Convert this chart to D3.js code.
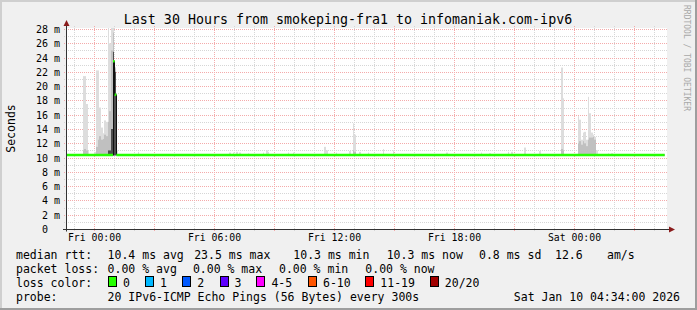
<!DOCTYPE html>
<html><head><meta charset="utf-8">
<script src="https://cdn.jsdelivr.net/npm/d3@7"></script>
<style>
html,body{margin:0;padding:0;background:#f0f0f0;}
svg{display:block;}
text{font-family:"DejaVu Sans Mono",monospace;fill:#000;}
</style>
</head><body>
<svg id="c" width="697" height="310"></svg>
<script>
// ---------------- data ----------------
const titleText = "Last 30 Hours from smokeping-fra1 to infomaniak.com-ipv6";
const yAxisTitle = "Seconds";
const sideText = "RRDTOOL / TOBI OETIKER";
const yTickValues = [0,2,4,6,8,10,12,14,16,18,20,22,24,26,28];
const yTickUnit = "m";
const xLabelTimes = ["2026-01-09T00:00","2026-01-09T06:00","2026-01-09T12:00","2026-01-09T18:00","2026-01-10T00:00"];
const xLabelTexts = ["Fri 00:00","Fri 06:00","Fri 12:00","Fri 18:00","Sat 00:00"];
const domainStart = "2026-01-08T22:34";
const domainEnd = "2026-01-10T04:34";

const medianTime  = ["2026-01-08T22:35","2026-01-09T00:55","2026-01-09T01:00","2026-01-09T01:05","2026-01-10T04:30"];
const medianValue = [10.35, 23.5, 18.8, 10.35, 10.35];

const smokeTime = [
 "2026-01-08T23:25","2026-01-08T23:30","2026-01-08T23:35","2026-01-08T23:40",
 "2026-01-09T00:00","2026-01-09T00:05","2026-01-09T00:10","2026-01-09T00:15","2026-01-09T00:20",
 "2026-01-09T00:25","2026-01-09T00:30","2026-01-09T00:35","2026-01-09T00:40","2026-01-09T00:45",
 "2026-01-09T00:50","2026-01-09T00:55","2026-01-09T01:00","2026-01-09T01:05",
 "2026-01-09T02:10","2026-01-09T06:45","2026-01-09T06:55","2026-01-09T07:05","2026-01-09T07:15",
 "2026-01-09T07:40","2026-01-09T08:25","2026-01-09T08:35","2026-01-09T08:40","2026-01-09T09:40",
 "2026-01-09T09:55","2026-01-09T11:30","2026-01-09T11:35","2026-01-09T12:05","2026-01-09T12:45",
 "2026-01-09T12:55","2026-01-09T13:00","2026-01-09T13:15","2026-01-09T13:40","2026-01-09T14:25",
 "2026-01-09T14:55","2026-01-09T17:35","2026-01-09T19:20","2026-01-09T19:45","2026-01-09T20:40",
 "2026-01-09T20:50","2026-01-09T21:30","2026-01-09T22:15","2026-01-09T23:20","2026-01-09T23:25",
 "2026-01-10T00:10","2026-01-10T00:15","2026-01-10T00:20","2026-01-10T00:25","2026-01-10T00:30",
 "2026-01-10T00:35","2026-01-10T00:40","2026-01-10T00:45","2026-01-10T00:50","2026-01-10T00:55",
 "2026-01-10T01:00","2026-01-10T01:05","2026-01-10T01:40","2026-01-10T01:50"
];
const smokeMax = [
 21.4,21.4,17.5,10.9,
 10.8,22.2,22.2,17.0,14.2,
 13.4,15.2,15.0,28.6,26.0,
 28.6,28.6,22.7,11.0,
 10.8,10.7,10.7,10.8,10.7,
 10.6,10.7,11.0,10.8,10.7,
 10.7,11.5,11.0,10.7,10.9,
 14.8,13.2,10.8,10.7,11.2,
 11.0,10.7,10.7,10.6,10.8,
 10.8,11.4,10.9,22.6,18.3,
 15.8,15.3,12.5,13.5,13.6,
 12.5,18.5,16.2,13.5,13.2,
 12.9,11.0,10.6,10.6
];
const smokeMid = [
 11.0,11.2,11.0,10.3,
 10.3,11.5,12.5,13.0,12.5,
 12.6,13.2,13.0,15.0,16.5,
 25.0,27.5,22.5,10.3,
 10.3,10.3,10.3,10.3,10.3,
 10.3,10.3,10.3,10.3,10.3,
 10.3,10.3,10.3,10.3,10.3,
 11.0,10.8,10.3,10.3,10.3,
 10.3,10.3,10.3,10.3,10.3,
 10.3,10.3,10.3,11.2,11.0,
 12.0,12.3,11.8,12.3,12.0,
 11.6,12.5,12.8,12.8,12.9,
 12.5,10.3,10.3,10.3
];
const smokeCore = [
 10.3,10.3,10.3,10.3,
 10.3,10.3,10.3,10.3,10.3,
 10.3,10.3,10.3,11.0,11.0,
 14.0,24.8,22.0,10.3,
 10.3,10.3,10.3,10.3,10.3,
 10.3,10.3,10.3,10.3,10.3,
 10.3,10.3,10.3,10.3,10.3,
 10.3,10.3,10.3,10.3,10.3,
 10.3,10.3,10.3,10.3,10.3,
 10.3,10.3,10.3,10.3,10.3,
 10.3,10.3,10.3,10.3,10.3,
 10.3,10.3,10.3,10.3,10.3,
 10.3,10.3,10.3,10.3
];
const smokeMin = smokeTime.map(() => 10.3);

const legendRttTexts  = ["median rtt:","10.4 ms avg","23.5 ms max","10.3 ms min","10.3 ms now","0.8 ms sd","12.6","am/s"];
const legendLossTexts = ["packet loss:","0.00 % avg","0.00 % max","0.00 % min","0.00 % now"];
const lossTitle = "loss color:";
const lossLabels = ["0","1","2","3","4-5","6-10","11-19","20/20"];
const lossColors = ["#26ff00","#00b8ff","#0059ff","#5e00ff","#ff00ff","#ff5500","#ff0000","#a10000"];
const probeTitle = "probe:";
const probeText = "20 IPv6-ICMP Echo Pings (56 Bytes) every 300s";
const stampText = "Sat Jan 10 04:34:00 2026";

// ---------------- layout ----------------
const W = 697, H = 310;
const PX0 = 66, PX1 = 666, CANVAS_R = 667, PYTOP = 28, PY0 = 229, PY28 = 29;
const parse = d3.timeParse("%Y-%m-%dT%H:%M");
const svg = d3.select("#c");

const x = d3.scaleTime().domain([parse(domainStart), parse(domainEnd)]).range([PX0, PX1]);
const y = d3.scaleLinear().domain([0, 28]).range([PY0, PY28]);
const px = v => Math.floor(x(v)) + 0.5;
const py = v => Math.round(y(v)) + 0.5;

// background + frame
svg.append("rect").attr("width", W).attr("height", H).attr("fill", "#f0f0f0");
svg.append("rect").attr("x", 0).attr("y", 0).attr("width", W).attr("height", 2).attr("fill", "#cfcfcf");
svg.append("rect").attr("x", 0).attr("y", 0).attr("width", 2).attr("height", H).attr("fill", "#cfcfcf");
svg.append("rect").attr("x", 0).attr("y", H - 2).attr("width", W).attr("height", 2).attr("fill", "#9e9e9e");
svg.append("rect").attr("x", W - 2).attr("y", 0).attr("width", 2).attr("height", H).attr("fill", "#9e9e9e");

// canvas
svg.append("rect").attr("x", PX0).attr("y", PYTOP).attr("width", CANVAS_R - PX0).attr("height", PY0 - PYTOP).attr("fill", "#ffffff");

svg.append("defs").append("clipPath").attr("id", "clip")
  .append("rect").attr("x", PX0).attr("y", PYTOP).attr("width", CANVAS_R - PX0).attr("height", PY0 - PYTOP);

// grid
const grid = svg.append("g");
const minorCol = "#d6d6d6", majorCol = "#f4abab";
const hours = d3.timeHour.every(1).range(x.domain()[0], x.domain()[1]);
hours.forEach(h => {
  const major = h.getHours() % 3 === 0;
  grid.append("line").attr("x1", px(h)).attr("x2", px(h)).attr("y1", PYTOP - 2).attr("y2", PY0 + 2)
    .attr("stroke", major ? majorCol : minorCol).attr("stroke-width", 1).attr("stroke-dasharray", "1,1");
});
d3.range(1, 29).forEach(v => {
  const major = yTickValues.includes(v);
  grid.append("line").attr("x1", PX0 - 2).attr("x2", CANVAS_R + 1).attr("y1", py(v)).attr("y2", py(v))
    .attr("stroke", major ? majorCol : minorCol).attr("stroke-width", 1).attr("stroke-dasharray", "1,1");
});

// smoke
const smoke = svg.append("g").attr("clip-path", "url(#clip)");
const step = 5 * 60 * 1000;
const slots = smokeTime.map((t, i) => ({ t: parse(t), min: smokeMin[i], max: smokeMax[i], mid: smokeMid[i], core: smokeCore[i] }));
const bandCols = [["max", "#dddddd"], ["mid", "#c0c0c0"], ["core", "#4e4e4e"]];
bandCols.forEach(([k, col]) => {
  smoke.selectAll(null).data(slots.filter(d => d[k] > d.min)).enter().append("rect")
    .attr("x", d => Math.floor(x(d.t)))
    .attr("width", d => Math.max(1, Math.floor(x(new Date(+d.t + step))) - Math.floor(x(d.t))))
    .attr("y", d => y(d[k]))
    .attr("height", d => y(d.min) - y(d[k]))
    .attr("fill", col);
});

// median: thin dark step line + green horizontal segments
const med = medianTime.map((t, i) => ({ t: parse(t), v: medianValue[i] }));
let dPath = "";
med.forEach((d, i) => {
  const xx = i === 0 ? x(d.t) : Math.floor(x(d.t)) + 0.5;
  if (i === 0) dPath += `M${xx},${y(d.v)}`;
  else dPath += `L${xx},${y(med[i - 1].v)}L${xx},${y(d.v)}`;
});
svg.append("path").attr("d", dPath).attr("fill", "none").attr("stroke", "#111").attr("stroke-width", 1).attr("clip-path", "url(#clip)");
const segs = med.slice(0, -1).map((d, i) => ({ x1: x(d.t), x2: x(med[i + 1].t), v: d.v }));
svg.append("g").selectAll("line").data(segs).enter().append("line")
  .attr("x1", d => d.x1).attr("x2", d => d.x2).attr("y1", d => y(d.v)).attr("y2", d => y(d.v))
  .attr("stroke", lossColors[0]).attr("stroke-width", 2.5);

// axes
const axisCol = "#333";
svg.append("line").attr("x1", PX0 + 0.5).attr("x2", PX0 + 0.5).attr("y1", 24).attr("y2", PY0 + 2.5).attr("stroke", axisCol);
svg.append("line").attr("x1", PX0 - 3).attr("x2", 669).attr("y1", PY0 + 0.5).attr("y2", PY0 + 0.5).attr("stroke", axisCol);
svg.append("path").attr("d", `M${PX0 + 0.5},20 L${PX0 + 3.5},26 L${PX0 - 2.5},26 Z`).attr("fill", "#8a1c1c");
svg.append("path").attr("d", `M675,${PY0 + 0.5} L669,${PY0 - 2.5} L669,${PY0 + 3.5} Z`).attr("fill", "#8a1c1c");

// y tick labels
const yl = svg.append("g").attr("font-size", "10px");
yTickValues.forEach(v => {
  yl.append("text").attr("x", 48).attr("y", py(v) + 3.3).attr("text-anchor", "end").text(String(v));
  if (v !== 0) yl.append("text").attr("x", 54).attr("y", py(v) + 3.3).text(yTickUnit);
});

// x tick labels
const xl = svg.append("g").attr("font-size", "9.8px");
xLabelTimes.forEach((t, i) => {
  xl.append("text").attr("x", px(parse(t))).attr("y", 240.5).attr("text-anchor", "middle").text(xLabelTexts[i]);
});

// title
svg.append("text").attr("x", 348).attr("y", 24).attr("text-anchor", "middle").attr("font-size", "13.3px").text(titleText);

// y axis title
svg.append("text").attr("transform", "translate(15,128.5) rotate(-90)").attr("text-anchor", "middle")
  .attr("font-size", "11.5px").text(yAxisTitle);

// side text
svg.append("text").attr("transform", "translate(684,5) rotate(90)").attr("font-size", "8px")
  .style("fill", "#a8a8a8").text(sideText);

// legend
const lg = svg.append("g").attr("font-size", "11.5px");
const row1X = [16, 107.6, 194.2, 293.3, 386.7, 479, 555, 607];
legendRttTexts.forEach((t, i) => lg.append("text").attr("x", row1X[i]).attr("y", 258.5).text(t));
const row2X = [16, 107.6, 192.9, 279, 365.3];
legendLossTexts.forEach((t, i) => lg.append("text").attr("x", row2X[i]).attr("y", 272.5).text(t));
lg.append("text").attr("x", 16).attr("y", 286.5).text(lossTitle);
const boxX = [108, 144.9, 182.2, 219.6, 256.4, 308, 365.3, 429.8];
lossLabels.forEach((t, i) => {
  lg.append("rect").attr("x", Math.round(boxX[i]) + 0.5).attr("y", 276.5).attr("width", 8).attr("height", 10)
    .attr("fill", lossColors[i]).attr("stroke", "#000").attr("stroke-width", 1);
  lg.append("text").attr("x", boxX[i] + 15).attr("y", 286.5).text(t);
});
lg.append("text").attr("x", 16).attr("y", 300.5).text(probeTitle);
lg.append("text").attr("x", 107.6).attr("y", 300.5).text(probeText);
lg.append("text").attr("x", 680).attr("y", 300.5).attr("text-anchor", "end").text(stampText);
</script>
</body></html>
